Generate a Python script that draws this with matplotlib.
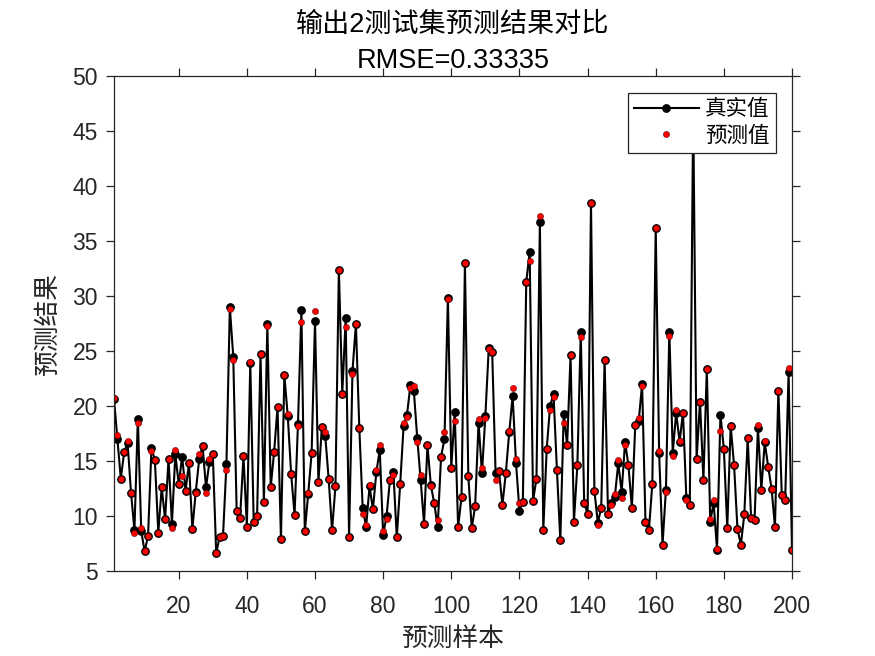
import matplotlib
matplotlib.use("Agg")
import matplotlib.pyplot as plt

plt.rcParams['font.family'] = ['Liberation Sans', 'Noto Sans CJK SC']

samples = list(range(1, 201))

true_vals = [
    20.6, 17.0, 13.4, 15.85, 16.6, 12.1, 8.7, 18.85, 8.6, 6.8,
    8.2, 16.2, 15.05, 8.5, 12.6, 9.7, 15.2, 9.3, 15.6, 12.9,
    15.4, 12.3, 14.8, 8.8, 12.2, 15.15, 16.4, 12.6, 14.9, 15.6,
    6.6, 8.1, 8.2, 14.7, 29.0, 24.5, 10.5, 9.8, 15.45, 9.0,
    23.9, 9.5, 10.0, 24.7, 11.3, 27.5, 12.6, 15.85, 19.9, 7.9,
    22.8, 19.1, 13.8, 10.1, 18.4, 28.7, 8.6, 12.0, 15.7, 27.7,
    13.1, 18.1, 17.3, 13.4, 8.7, 12.7, 32.4, 21.1, 28.0, 8.1,
    23.2, 27.45, 18.0, 10.7, 9.0, 12.7, 10.6, 14.0, 16.0, 8.3,
    10.0, 13.3, 14.0, 8.06, 12.9, 18.2, 19.2, 21.9, 21.4, 17.1,
    13.3, 9.3, 16.45, 12.8, 11.15, 9.0, 15.4, 17.0, 29.85, 14.4,
    19.45, 9.0, 11.7, 33.0, 13.6, 8.9, 10.9, 18.5, 13.9, 19.1,
    25.3, 24.9, 13.9, 14.1, 11.0, 13.9, 17.6, 20.9, 14.8, 10.5,
    11.3, 31.3, 34.0, 11.4, 13.4, 36.7, 8.7, 16.1, 20.0, 21.1,
    14.2, 7.8, 19.3, 16.45, 24.6, 9.5, 14.6, 26.7, 11.2, 10.2,
    38.5, 12.3, 9.4, 10.7, 24.2, 10.2, 11.2, 11.75, 14.8, 12.2,
    16.7, 14.6, 10.7, 18.3, 18.6, 22.0, 9.45, 8.7, 12.9, 36.2,
    15.7, 7.4, 12.4, 26.75, 15.75, 19.4, 16.75, 19.4, 11.6, 11.0,
    47.0, 15.15, 20.4, 13.3, 23.4, 9.5, 11.2, 6.9, 19.2, 16.1,
    8.9, 18.2, 14.6, 8.8, 7.4, 10.15, 17.1, 9.8, 9.6, 18.0,
    12.4, 16.7, 14.5, 12.5, 9.0, 21.4, 11.9, 11.5, 23.06, 6.9,
]

pred_vals = [
    20.7, 17.4, 13.4, 15.85, 16.85, 12.1, 8.5, 18.5, 8.9, 6.8,
    8.2, 15.9, 15.05, 8.5, 12.6, 9.7, 15.2, 8.9, 15.97, 12.9,
    13.6, 12.3, 14.8, 8.8, 12.1, 15.6, 16.4, 12.1, 15.2, 15.6,
    6.6, 8.1, 8.2, 14.2, 28.8, 24.2, 10.5, 9.8, 15.45, 9.0,
    24.0, 9.5, 10.0, 24.7, 11.3, 27.3, 12.6, 15.85, 19.9, 7.9,
    22.8, 19.3, 13.8, 10.1, 18.2, 27.6, 8.6, 12.1, 15.75, 28.6,
    13.1, 18.1, 17.6, 13.4, 8.7, 12.7, 32.4, 21.1, 27.15, 8.1,
    22.9, 27.45, 18.0, 10.2, 9.2, 12.8, 10.6, 14.2, 16.5, 8.6,
    9.75, 13.3, 13.7, 8.06, 12.9, 18.5, 19.0, 21.6, 21.8, 16.75,
    13.7, 9.3, 16.45, 12.7, 11.15, 9.6, 15.4, 17.6, 29.7, 14.4,
    18.6, 9.0, 11.7, 33.0, 13.6, 8.9, 10.9, 18.8, 14.4, 18.9,
    25.2, 24.9, 13.3, 14.1, 11.0, 13.9, 17.7, 21.6, 15.2, 11.2,
    11.3, 31.3, 33.2, 11.4, 13.4, 37.3, 8.7, 16.1, 19.6, 20.8,
    14.2, 7.8, 18.5, 16.45, 24.6, 9.5, 14.6, 26.3, 11.2, 10.2,
    38.5, 12.3, 9.15, 10.7, 24.2, 10.2, 11.0, 12.0, 15.1, 11.6,
    16.45, 14.6, 10.7, 18.3, 18.9, 21.8, 9.45, 8.7, 12.9, 36.2,
    15.9, 7.4, 12.2, 26.4, 15.5, 19.6, 16.8, 19.4, 11.45, 11.0,
    46.8, 15.15, 20.4, 13.3, 23.4, 9.7, 11.5, 6.97, 17.7, 16.1,
    8.9, 18.2, 14.6, 8.8, 7.4, 10.15, 17.1, 9.8, 9.6, 18.3,
    12.4, 16.85, 14.5, 12.5, 9.0, 21.4, 11.9, 11.5, 23.5, 6.9,
]

rmse_text = "RMSE=0.33335"
dark = '#262626'

fig = plt.figure(figsize=(8.75, 6.56), dpi=100)
ax = fig.add_axes([114 / 875, 85 / 656, 678 / 875, 495 / 656])

ax.plot(samples, true_vals, '-o', color='black', lw=1.5, ms=5.3,
        markerfacecolor='black', markeredgecolor='black', label='真实值')
ax.plot(samples, pred_vals, 'o', ls='none', color='red', ms=4.5,
        markerfacecolor='red', markeredgecolor='#300000', markeredgewidth=0.3,
        label='预测值')

ax.set_xlim(1, 200)
ax.set_ylim(5, 50)
ax.set_xticks(range(20, 201, 20))
ax.set_yticks(range(5, 51, 5))

for s in ax.spines.values():
    s.set_color(dark)
    s.set_linewidth(0.9)
ax.tick_params(direction='out', length=5.5, width=0.9, color=dark,
               labelcolor=dark, labelsize=16.5, top=True, right=True)
ax.tick_params(axis='x', pad=12)
ax.tick_params(axis='y', pad=6)

ax.set_title("输出2测试集预测结果对比\n" + rmse_text, fontsize=19.5, color='black',
             pad=6, linespacing=1.5)
ax.set_xlabel("预测样本", fontsize=18.5, color=dark, labelpad=6)
ax.set_ylabel("预测结果", fontsize=18.5, color=dark, labelpad=9)

leg = ax.legend(loc='upper right', bbox_to_anchor=(0.9764, 0.9657),
                borderaxespad=0, fontsize=15.5, fancybox=False,
                edgecolor=dark, framealpha=1, handlelength=3.0,
                handletextpad=0.3, labelspacing=0.25, borderpad=0.3)
leg.get_frame().set_linewidth(0.9)

fig.savefig("out.png", dpi=100, facecolor='white')
